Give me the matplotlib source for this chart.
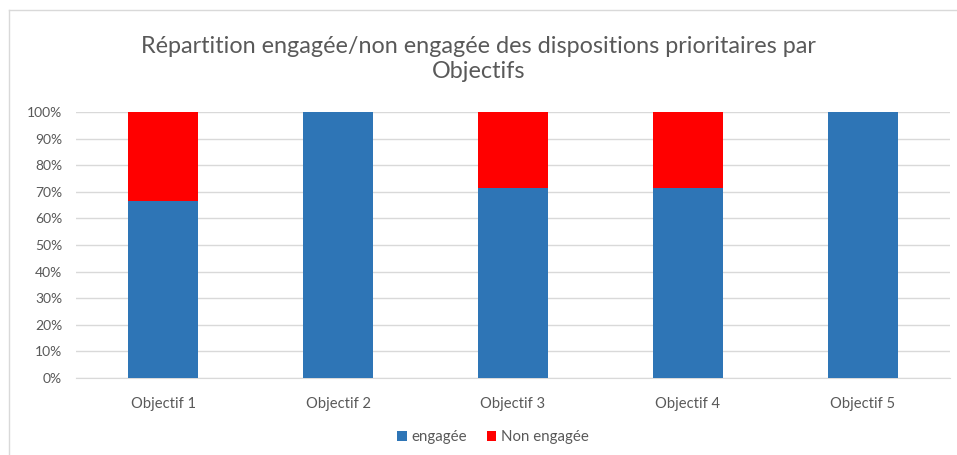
import matplotlib
matplotlib.use("Agg")
import matplotlib.pyplot as plt
from matplotlib.lines import Line2D
from matplotlib.patches import Patch
import numpy as np

categories = ["Objectif 1", "Objectif 2", "Objectif 3", "Objectif 4", "Objectif 5"]
engagee = [66.7, 100.0, 71.4, 71.4, 100.0]
non_engagee = [33.3, 0.0, 28.6, 28.6, 0.0]
series_names = ["engagée", "Non engagée"]
title = "Répartition engagée/non engagée des dispositions prioritaires par\nObjectifs"

plt.rcParams['font.family'] = ['Lato', 'DejaVu Sans']
text_color = "#595959"
blue = "#2E75B6"
red = "#FF0000"

fig = plt.figure(figsize=(9.57, 4.55), dpi=100)
ax = fig.add_axes([76/957, 1-378/455, 874/957, 266/455])

x = np.arange(len(categories))
ax.bar(x, engagee, width=0.4, color=blue, zorder=3)
ax.bar(x, non_engagee, width=0.4, bottom=engagee, color=red, zorder=3)

ax.set_xlim(-0.5, len(categories)-0.5)
ax.set_ylim(0, 100)
ax.set_yticks(np.arange(0, 101, 10))
ax.set_yticklabels([f"{v}%" for v in range(0, 101, 10)])
ax.set_xticks(x)
ax.set_xticklabels(categories)
ax.yaxis.grid(True, color="#D9D9D9", linewidth=1, zorder=0)
ax.set_axisbelow(True)
for s in ax.spines.values():
    s.set_visible(False)
ax.spines['bottom'].set_visible(True)
ax.spines['bottom'].set_color("#D9D9D9")
ax.tick_params(axis='both', length=0, colors=text_color)
ax.tick_params(axis='y', pad=10, labelsize=10)
ax.tick_params(axis='x', pad=14, labelsize=10.6)

fig.text(0.5, 1-59/455, title, ha='center', va='center', fontsize=16.8,
         color=text_color, linespacing=1.25, fontweight='normal')

handles = [Patch(facecolor=blue), Patch(facecolor=red)]
fig.legend(handles, series_names, loc='center', bbox_to_anchor=(493/957, 1-437/455),
           ncol=2, frameon=False, fontsize=10.8, labelcolor=text_color,
           handlelength=0.65, handleheight=0.65, handletextpad=0.3, columnspacing=1.3)

# chart frame (left and top edges visible)
fig.add_artist(Line2D([9/957, 9/957], [0, 1-10/455], color="#D9D9D9", linewidth=1))
fig.add_artist(Line2D([9/957, 1], [1-10/455, 1-10/455], color="#D9D9D9", linewidth=1))

fig.savefig("out.png", dpi=100, facecolor="white")
